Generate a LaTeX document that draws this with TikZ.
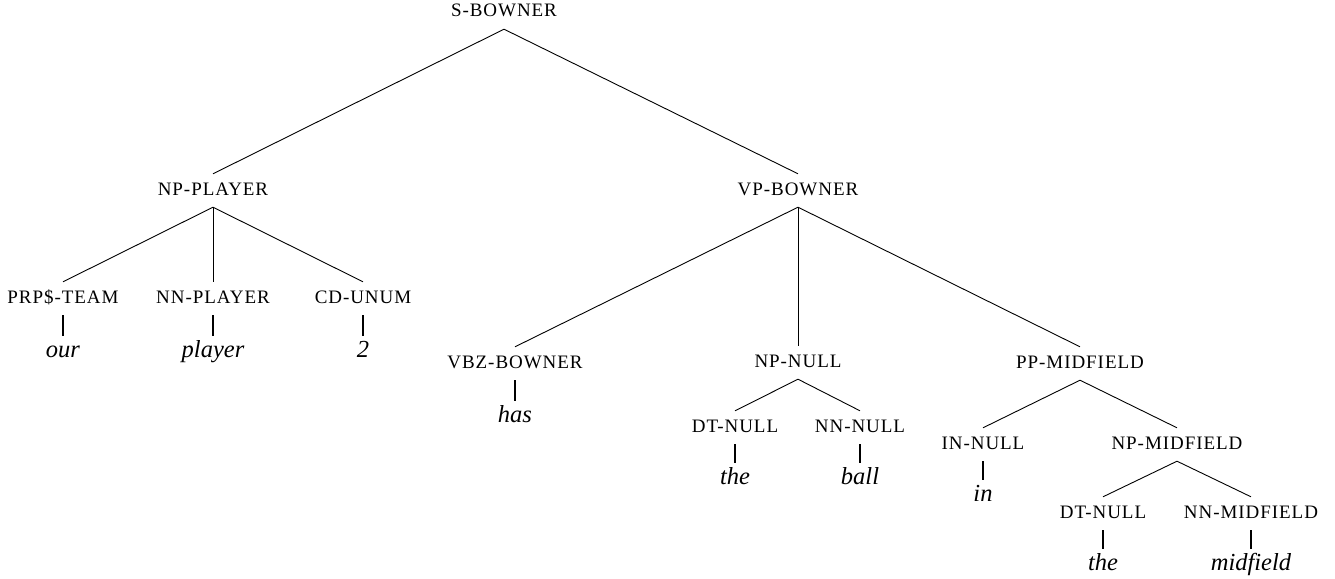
\documentclass[tikz,border=0pt]{standalone}
\usepackage{fontspec}
\setmainfont{Liberation Serif}
\newfontfamily\catfont[LetterSpace=5]{Liberation Serif}
\usepackage{tikz}

\tikzset{
	cat/.style={anchor=base, inner sep=0pt, text height=21pt, text depth=12pt, font=\catfont\fontsize{19}{19}\selectfont},
	word/.style={anchor=base, inner sep=0pt, text height=21pt, text depth=12pt, font=\itshape\fontsize{24.5}{24.5}\selectfont},
	branch/.style={line width=0.9pt}
}

\begin{document}
\begin{tikzpicture}[x=1pt, y=-1pt]
	\useasboundingbox (0,0) rectangle (1335,578);
		\node [cat] (s) at (504,17) {S-BOWNER};
		\node [cat] (npp) at (213,195) {NP-PLAYER};
		\node [cat] (vpb) at (798,195) {VP-BOWNER};
		\node [cat] (prp) at (63,303) {PRP\$-TEAM};
		\node [cat] (nnp) at (213,303) {NN-PLAYER};
		\node [cat] (cd) at (363,303) {CD-UNUM};
		\node [word] (our) at (63,357) {our};
		\node [word] (player) at (213,357) {player};
		\node [word] (two) at (363,357) {2};
		\node [cat] (vbz) at (515,368) {VBZ-BOWNER};
		\node [word] (has) at (515,422) {has};
		\node [cat] (npn) at (798,367) {NP-NULL};
		\node [cat] (dtn) at (735,432) {DT-NULL};
		\node [cat] (nnn) at (860,432) {NN-NULL};
		\node [word] (the1) at (735,484) {the};
		\node [word] (ball) at (860,484) {ball};
		\node [cat] (ppm) at (1080,368) {PP-MIDFIELD};
		\node [cat] (in) at (983,449) {IN-NULL};
		\node [word] (inw) at (983,501) {in};
		\node [cat] (npm) at (1177,449) {NP-MIDFIELD};
		\node [cat] (dtm) at (1103,518) {DT-NULL};
		\node [cat] (nnm) at (1251,518) {NN-MIDFIELD};
		\node [word] (the2) at (1103,570) {the};
		\node [word] (mid) at (1251,570) {midfield};
		\foreach \p/\c in {s/npp, s/vpb, npp/prp, npp/nnp, npp/cd, vpb/vbz, vpb/npn, vpb/ppm,
			npn/dtn, npn/nnn, ppm/in, ppm/npm, npm/dtm, npm/nnm}
			\draw [branch] (\p.south) -- (\c.north);
		\foreach \p/\c in {prp/our, nnp/player, cd/two, vbz/has, dtn/the1, nnn/ball, in/inw, dtm/the2, nnm/mid}
			\draw [branch, line width=1.5pt] (\p.south) -- (\c.north);
\end{tikzpicture}
\end{document}
